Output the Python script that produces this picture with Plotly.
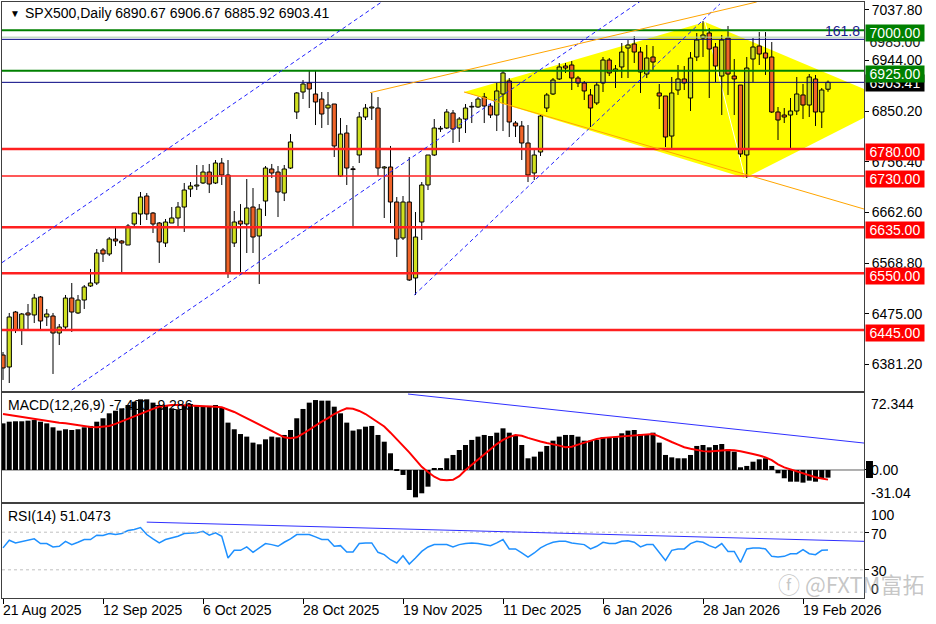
import pandas as pd
import plotly.graph_objects as go
from plotly.subplots import make_subplots

FONT = "Liberation Sans, Arial, sans-serif"

# ---------------- data ----------------
all_days = pd.bdate_range("2025-08-21", "2026-02-25")
market_closed = pd.to_datetime(["2025-12-25", "2026-01-01"])
dates = [d for d in all_days if d not in market_closed]

opens = [
    6398.7, 6376.5, 6478.3, 6445.0, 6476.5, 6472.8, 6506.1, 6469.1, 6470.9, 6439.4,
    6450.5, 6504.2, 6476.5, 6500.5, 6526.5, 6532.0, 6593.1, 6585.7, 6613.4, 6609.7,
    6602.3, 6641.2, 6659.7, 6693.0, 6661.5, 6643.0, 6606.0, 6643.0, 6652.3, 6672.6,
    6705.9, 6711.5, 6717.1, 6737.4, 6717.1, 6754.1, 6731.9, 6606.0, 6646.7, 6641.2,
    6672.6, 6619.0, 6683.7, 6743.0, 6737.4, 6698.5, 6744.8, 6848.5, 6885.5, 6902.2,
    6881.8, 6872.5, 6855.9, 6863.3, 6730.0, 6809.6, 6743.0, 6768.9, 6839.2, 6855.9,
    6855.9, 6744.8, 6746.7, 6681.9, 6615.3, 6681.9, 6541.3, 6644.9, 6713.4, 6768.9,
    6817.0, 6818.9, 6846.6, 6818.9, 6835.5, 6857.7, 6857.7, 6876.2, 6859.6, 6842.9,
    6881.8, 6905.9, 6828.1, 6822.6, 6791.1, 6735.6, 6774.4, 6855.9, 6881.8, 6909.6,
    6933.6, 6935.5, 6911.4, 6902.2, 6880.0, 6865.2, 6902.2, 6944.7, 6924.4, 6931.8,
    6966.9, 6974.3, 6959.5, 6918.8, 6950.3, 6883.7, 6878.1, 6804.0, 6889.2, 6909.6,
    6874.4, 6950.3, 6985.4, 6994.7, 6968.8, 6915.1, 6985.4, 6915.1, 6898.4, 6768.9,
    6946.6, 6970.6, 6957.7, 6950.3, 6848.5, 6842.9, 6842.9, 6850.3, 6880.0, 6861.4,
    6909.6, 6848.5, 6890.67]
highs = [
    6404.3, 6476.5, 6480.2, 6476.5, 6493.1, 6511.7, 6507.9, 6483.9, 6476.5, 6456.1,
    6509.8, 6532.0, 6509.8, 6528.3, 6558.0, 6594.9, 6596.8, 6617.1, 6635.6, 6611.6,
    6641.2, 6661.5, 6700.4, 6698.5, 6663.4, 6644.9, 6650.4, 6672.6, 6681.9, 6717.1,
    6718.9, 6750.4, 6750.4, 6752.3, 6759.6, 6763.3, 6759.6, 6665.2, 6678.1, 6724.5,
    6707.8, 6678.1, 6748.5, 6752.3, 6748.5, 6750.4, 6807.7, 6885.5, 6907.7, 6924.4,
    6924.4, 6885.5, 6885.5, 6863.3, 6837.4, 6824.4, 6748.5, 6848.5, 6863.3, 6883.7,
    6876.2, 6748.5, 6785.6, 6691.1, 6693.0, 6765.2, 6663.4, 6718.9, 6768.9, 6835.5,
    6822.6, 6854.0, 6852.2, 6839.2, 6863.3, 6867.0, 6876.2, 6883.7, 6865.2, 6902.2,
    6924.4, 6911.4, 6831.8, 6831.8, 6824.4, 6778.1, 6842.9, 6883.7, 6911.4, 6939.2,
    6939.2, 6942.8, 6915.1, 6905.9, 6891.0, 6904.0, 6950.3, 6948.4, 6935.5, 6976.2,
    6981.7, 6989.1, 6968.8, 6972.5, 6970.6, 6900.3, 6878.1, 6913.3, 6935.5, 6933.6,
    6959.5, 6994.7, 7016.9, 7003.9, 6976.2, 6991.0, 7007.7, 6946.6, 6898.4, 6950.3,
    6985.4, 6996.5, 6996.5, 6978.0, 6857.7, 6855.9, 6874.4, 6913.3, 6900.3, 6918.8,
    6917.0, 6892.9, 6906.67]
lows = [
    6352.5, 6346.9, 6439.4, 6417.2, 6446.8, 6457.9, 6443.1, 6452.4, 6363.6, 6417.2,
    6446.8, 6441.3, 6474.6, 6483.9, 6524.6, 6528.3, 6570.9, 6582.0, 6600.5, 6550.6,
    6602.3, 6635.6, 6639.3, 6648.6, 6624.5, 6569.1, 6598.6, 6643.0, 6637.5, 6626.4,
    6691.1, 6704.1, 6715.2, 6698.5, 6715.2, 6713.4, 6541.3, 6598.6, 6550.6, 6587.5,
    6587.5, 6530.2, 6656.0, 6726.3, 6654.1, 6683.7, 6743.0, 6835.5, 6872.5, 6855.9,
    6824.4, 6818.9, 6824.4, 6765.2, 6728.2, 6713.4, 6635.6, 6754.1, 6833.7, 6833.7,
    6730.0, 6652.3, 6643.0, 6580.2, 6611.6, 6535.7, 6509.8, 6611.6, 6704.1, 6767.0,
    6811.5, 6817.0, 6791.1, 6793.0, 6809.6, 6828.1, 6855.9, 6828.1, 6837.4, 6813.3,
    6813.3, 6802.2, 6802.2, 6759.6, 6718.9, 6722.6, 6767.0, 6848.5, 6880.0, 6907.7,
    6920.7, 6889.2, 6894.7, 6870.7, 6820.7, 6861.4, 6885.5, 6915.1, 6892.9, 6911.4,
    6911.4, 6939.2, 6883.7, 6911.4, 6926.2, 6854.0, 6783.7, 6781.9, 6880.0, 6889.2,
    6850.3, 6942.8, 6950.3, 6874.4, 6904.0, 6842.9, 6880.0, 6842.9, 6765.2, 6726.3,
    6904.0, 6935.5, 6917.0, 6846.6, 6796.7, 6828.1, 6778.1, 6842.9, 6835.5, 6839.2,
    6822.6, 6818.9, 6885.92]
closes = [
    6374.7, 6469.1, 6445.0, 6474.6, 6472.8, 6504.2, 6461.6, 6474.6, 6439.4, 6450.5,
    6504.2, 6478.3, 6500.5, 6524.6, 6532.0, 6587.5, 6585.7, 6613.4, 6609.7, 6606.0,
    6637.5, 6661.5, 6691.1, 6659.7, 6641.2, 6607.9, 6644.9, 6652.3, 6672.6, 6704.1,
    6711.5, 6713.4, 6737.4, 6715.2, 6754.1, 6731.9, 6550.6, 6644.9, 6641.2, 6670.8,
    6617.1, 6668.9, 6744.8, 6735.6, 6700.4, 6743.0, 6793.0, 6883.7, 6900.3, 6891.0,
    6867.0, 6844.8, 6861.4, 6785.6, 6807.7, 6744.8, 6742.0, 6839.2, 6855.9, 6857.7,
    6744.8, 6746.7, 6681.9, 6613.4, 6681.9, 6537.6, 6617.1, 6713.4, 6768.9, 6818.9,
    6818.0, 6848.5, 6817.0, 6835.5, 6855.9, 6858.6, 6872.5, 6859.6, 6842.9, 6887.4,
    6920.7, 6830.0, 6822.6, 6791.1, 6731.9, 6768.9, 6841.1, 6880.0, 6907.7, 6931.8,
    6929.9, 6911.4, 6902.2, 6887.4, 6855.9, 6898.4, 6944.7, 6920.7, 6928.1, 6959.5,
    6972.5, 6959.5, 6922.5, 6948.4, 6941.0, 6878.1, 6802.2, 6883.7, 6909.6, 6902.2,
    6948.4, 6981.7, 6991.0, 6965.1, 6933.6, 6981.7, 6918.8, 6909.6, 6770.8, 6929.9,
    6968.8, 6955.8, 6948.4, 6848.5, 6833.7, 6839.2, 6850.3, 6881.8, 6861.4, 6913.3,
    6848.5, 6889.2, 6903.41]

macd_main = [
    45, 46.6, 47, 47, 47.6, 48.2, 46.6, 45, 41.2, 38,
    39.3, 38.6, 39.3, 41.2, 42.5, 46.6, 49.9, 54.7, 57.2, 59.5,
    62.7, 65.9, 68.2, 68.2, 65, 62.7, 61.8, 59.5, 58.6, 61.8,
    63.7, 62.7, 61.8, 61.8, 62.7, 60.5, 45.7, 39.3, 34.7, 32.2,
    26.4, 24.8, 29.6, 32.2, 31.5, 33.8, 38.6, 49.9, 58.9, 65,
    67.5, 66.9, 66.9, 61.1, 54.7, 45.7, 38, 39.3, 41.8, 42.5,
    33.8, 27.3, 16.1, -1, -4.8, -19.3, -26.4, -22.5, -16.1, 1.3,
    1.6, 11.3, 14.5, 19.3, 24.1, 29, 32.2, 33.8, 32.8, 36,
    40.2, 36, 32.8, 24.1, 11.3, 12.9, 17.7, 23.2, 28.3, 32.2,
    33.8, 33.8, 32.2, 28.3, 28.3, 29, 31.5, 31.5, 31.5, 35.4,
    38, 38.6, 34.7, 34.7, 36, 26.4, 14.5, 12.2, 11.3, 11.3,
    14.5, 23.2, 24.1, 21.9, 24.1, 25.1, 20, 17.7, 2.6, 3.9,
    8, 10.3, 11.3, 3.9, -3.2, -8, -11.3, -11.3, -12.2, -10.3,
    -11.3, -8, -7.4]
macd_signal = [
    54, 53, 52, 51, 50, 49, 48, 47.5, 46.5, 45.5,
    45, 44, 43, 42, 41.5, 41.2, 41.5, 42.5, 44.5, 47,
    49.5, 52, 54.5, 57, 59, 61, 62, 62.7, 62.7, 62.5,
    62.2, 62, 61.8, 61.5, 61, 60.5, 58.5, 56, 53, 50,
    47, 44, 41, 38, 34.5, 31.5, 30.6, 31.5, 35, 39,
    43, 46.6, 50, 54, 57, 59.5, 59, 57, 54, 50,
    46.6, 42, 36, 30, 24, 17, 10, 3, -2, -6.5,
    -9.5, -10, -9.5, -6, 0, 5, 10, 15.5, 20, 25,
    29, 32, 33.8, 33, 31, 29, 27.5, 26, 25, 23.5,
    22, 22.5, 24.5, 26.5, 28.5, 30, 31, 31.5, 31.5, 32,
    32.8, 33.5, 34, 34.5, 34.7, 32.5, 29.5, 27, 24.5, 22,
    20.5, 19, 18.2, 17.8, 18, 18.7, 19.2, 19, 18, 17,
    15.5, 14, 12.2, 9.5, 5.5, 2.5, 0.5, -1, -3, -5,
    -7, -8.2, -9.286]
rsi14 = [
    53.3, 61.4, 58.6, 60.3, 61.4, 62.9, 57.9, 57.9, 54.3, 55,
    60.3, 56.8, 59.3, 62.2, 62.2, 66.8, 66.4, 68.6, 67.5, 68.6,
    71.8, 72.9, 75, 67.5, 62.9, 58.6, 62.2, 64, 65.7, 68.6,
    69.3, 69.3, 71, 66.8, 69.3, 65.7, 42.5, 50.7, 50.7, 54.3,
    48.6, 53.3, 57.9, 56.8, 55, 59.3, 62.9, 67.5, 67.5, 67.5,
    65, 62.2, 62.2, 55, 55.7, 49, 49, 57.9, 58.6, 58.6,
    48.6, 46.1, 40.7, 37.2, 45, 36.1, 42.5, 49.6, 54.3, 56.8,
    56.8, 56.8, 54.3, 56.8, 57.9, 58.6, 57.9, 56.8, 55.7, 58.6,
    62.2, 52.2, 52.2, 47.9, 43.6, 47.9, 53.3, 56.8, 59.3, 60.3,
    60.3, 58.6, 57.9, 56.8, 52.2, 55, 59.3, 57.9, 57.9, 60.3,
    61, 59.3, 54.3, 56.8, 56.8, 47.9, 40, 50.7, 52.2, 52.2,
    57.9, 60.3, 59.3, 55.7, 53.3, 57.9, 49.6, 49.6, 37.8, 52.2,
    53.3, 53.3, 52.2, 44.3, 43.6, 44.3, 47.1, 47.1, 51.4, 47.1,
    46.1, 50.7, 51.0473]

price_ticks = [7037.80, 6944.00, 6850.20, 6756.40, 6662.60, 6568.80, 6475.00, 6381.20]
support_levels = [6780, 6730, 6635, 6550, 6445]
resistance_levels = [7000, 6925]
fib_level = 6987.0
marked_level = 6983.0
last_price = closes[-1]
date_tick_idx = list(range(0, len(dates), 16))
date_tick_labels = [f"{dates[i].day} {dates[i].strftime('%b %Y')}" for i in date_tick_idx]

# analyst drawings (bar position, price)
channel_a = [(-0.16, 6569.7), (60.8, 7053.9)]
channel_b = [(11.0, 6334.0), (101.9, 7053.0)]
channel_c = [(65.8, 6509.8), (114.7, 7048.4)]
orange_upper = [(58.72, 6884.2), (120.59, 7052.1)]
orange_lower = [(73.76, 6885.5), (137.76, 6668.9)]
pattern = [(73.76, 6885.5), (112.32, 7015.0), (137.76, 6891.2), (137.76, 6837.9), (118.72, 6726.3)]
pattern_split = [(112.32, 7015.0), (118.72, 6726.3)]
macd_trend = [(64.8, 73.3), (137.76, 26.0)]
rsi_trend = [(23.0, 80.7), (137.76, 60.3)]

# ---------------- figure ----------------
n = len(dates)
idx = list(range(n))
BULL = "#D0E020"
BEAR = "#F06428"

X_RANGE = [-0.16, 137.76]
MAIN_RANGE = [6332.1, 7052.1]
MACD_RANGE = [-30.9, 74.3]
RSI_RANGE = [0, 100]

fig = make_subplots(rows=3, cols=1, shared_xaxes=True, vertical_spacing=0.0)

# candles: wicks (above / below body) then bodies
wx, wy = [], []
for i in idx:
    top = max(opens[i], closes[i])
    bot = min(opens[i], closes[i])
    wx += [i, i, None, i, i, None]
    wy += [highs[i], top, None, bot, lows[i], None]
fig.add_trace(go.Scatter(x=wx, y=wy, mode="lines", line=dict(color="black", width=1),
                         hoverinfo="skip", showlegend=False), row=1, col=1)
bases = [min(o, c) for o, c in zip(opens, closes)]
heights = [max(abs(c - o), 1.3) for o, c in zip(opens, closes)]
colors = [BULL if c >= o else BEAR for o, c in zip(opens, closes)]
fig.add_trace(go.Bar(x=idx, y=heights, base=bases, width=0.68,
                     marker=dict(color=colors, line=dict(color="black", width=1)),
                     hoverinfo="skip", showlegend=False), row=1, col=1)

# MACD
fig.add_trace(go.Bar(x=idx, y=macd_main, width=0.8, marker=dict(color="black", line=dict(width=0)),
                     hoverinfo="skip", showlegend=False), row=2, col=1)
fig.add_trace(go.Scatter(x=idx, y=macd_signal, mode="lines", line=dict(color="#FF0000", width=2),
                         hoverinfo="skip", showlegend=False), row=2, col=1)

# RSI
fig.add_trace(go.Scatter(x=idx, y=rsi14, mode="lines", line=dict(color="#1E90FF", width=1.5),
                         hoverinfo="skip", showlegend=False), row=3, col=1)

shapes = []

# yellow pattern (drawn beneath the candles)
path = "M " + " L ".join(f"{x},{y}" for x, y in pattern) + " Z"
shapes.append(dict(type="path", xref="x", yref="y", path=path, fillcolor="#FFFF00",
                   line=dict(width=0), layer="below"))
shapes.append(dict(type="line", xref="x", yref="y", x0=pattern_split[0][0], y0=pattern_split[0][1],
                   x1=pattern_split[1][0], y1=pattern_split[1][1], layer="below",
                   line=dict(color="white", width=1)))


def seg(pts, xref, yref, color, width=1, dash="solid"):
    return dict(type="line", xref=xref, yref=yref, x0=pts[0][0], y0=pts[0][1],
                x1=pts[1][0], y1=pts[1][1], line=dict(color=color, width=width, dash=dash))


def hline(y, color, width, xref="x domain", yref="y", dash="solid", layer="above"):
    return dict(type="line", xref=xref, yref=yref, x0=0, x1=1, y0=y, y1=y, layer=layer,
                line=dict(color=color, width=width, dash=dash))


for lvl in support_levels:
    shapes.append(hline(lvl, "#FF2020", 1.5 if lvl == 6730 else 2.5))
shapes.append(hline(fib_level, "#A8CCA8", 1))
shapes.append(hline(marked_level, "#000080", 1))
for lvl in resistance_levels:
    shapes.append(hline(lvl, "#008000", 2))
shapes.append(hline(last_price, "#000080", 1))

for ch in (channel_a, channel_b, channel_c):
    shapes.append(seg(ch, "x", "y", "#2020FF", 1, "4px,3px"))
shapes.append(seg(orange_upper, "x", "y", "#FFA500", 1))
shapes.append(seg(orange_lower, "x", "y", "#FFA500", 1))

shapes.append(hline(0, "#606060", 1, xref="x2 domain", yref="y2", layer="below"))
shapes.append(seg(macd_trend, "x2", "y2", "#3030FF", 1))
shapes.append(hline(70, "#C0C0C0", 1, xref="x3 domain", yref="y3", dash="dot"))
shapes.append(hline(30, "#C0C0C0", 1, xref="x3 domain", yref="y3", dash="dot"))
shapes.append(seg(rsi_trend, "x3", "y3", "#3030FF", 1))

# black marker box beside 0.00 on MACD scale
shapes.append(dict(type="rect", xref="paper", yref="paper", x0=1.0023, x1=1.0104,
                   y0=0.2013, y1=0.2299, fillcolor="black", line=dict(width=0)))

ann = []


def level_box(y, text, bg, fg="white", yshift=-3):
    return dict(xref="paper", yref="y", x=1, y=y, xanchor="left", yanchor="middle",
                xshift=1, yshift=yshift, text=text, showarrow=False, bgcolor=bg,
                font=dict(color=fg, size=14, family=FONT), width=58, borderpad=0,
                align="center")


ann.append(level_box(marked_level, f"{marked_level + 2:.2f}", "rgba(0,0,0,0)", fg="#202020", yshift=-3))
ann.append(level_box(last_price, f"{last_price:.2f}", "black", yshift=-1))
for lvl in resistance_levels:
    ann.append(level_box(lvl, f"{lvl:.2f}", "#008000", yshift=-3))
for lvl in support_levels:
    ann.append(level_box(lvl, f"{lvl:.2f}", "#FF0000", yshift=-3))


def ptext(x, y, text, size=14, color="black", xanchor="left", family=FONT):
    return dict(xref="paper", yref="paper", x=x, y=y, xanchor=xanchor, yanchor="middle",
                text=text, showarrow=False, font=dict(size=size, color=color, family=family))


ann.append(ptext(0.0070, 0.9815, "▼", size=10))
ann.append(ptext(0.0244, 0.9815, f"SPX500,Daily {opens[-1]:.2f} {highs[-1]:.2f} {lows[-1]:.2f} {closes[-1]:.2f}"))
ann.append(ptext(0.9977, 0.9513, "161.8", color="#1A1A8C", xanchor="right"))

ann.append(ptext(0.0046, 0.3238, f"MACD(12,26,9) {macd_main[-1]:.3f} {macd_signal[-1]:.3f}"))
ann.append(ptext(0.0046, 0.1376, f"RSI(14) {rsi14[-1]:.4f}"))

for txt, yp in [("72.344", 0.3255), ("0.00", 0.2148), ("-31.04", 0.1762),
                ("100", 0.1393), ("70", 0.1074), ("30", 0.0453), ("0", 0.0151)]:
    ann.append(dict(xref="paper", yref="paper", x=1, y=yp, xanchor="left", yanchor="middle",
                    xshift=5, text=txt, showarrow=False, font=dict(size=14, color="black", family=FONT)))

for i, lab in zip(date_tick_idx, date_tick_labels):
    ann.append(dict(xref="x3", yref="paper", x=i, y=-0.0201, xanchor="left", yanchor="middle",
                    xshift=-2, text=lab, showarrow=False, font=dict(size=14, color="black", family=FONT)))

ann.append(ptext(1.072, 0.0252, "ⓕ @FXTM富拓", size=22, color="rgba(150,150,150,0.55)",
                 xanchor="right", family="Noto Sans CJK SC, DejaVu Sans, sans-serif"))

axis_common = dict(showgrid=False, zeroline=False, showline=True, mirror=True,
                   linecolor="#404040", linewidth=1)

fig.update_layout(
    width=936, height=624,
    margin=dict(l=2, r=72, t=2, b=26),
    paper_bgcolor="white", plot_bgcolor="white",
    showlegend=False, hovermode=False,
    shapes=shapes, annotations=ann,
    font=dict(family=FONT, size=14, color="black"),
    xaxis=dict(range=X_RANGE, showticklabels=False, ticks="", **axis_common),
    xaxis2=dict(range=X_RANGE, showticklabels=False, ticks="", **axis_common),
    xaxis3=dict(range=X_RANGE, showticklabels=False, ticks="outside", ticklen=5,
                tickcolor="black", tickvals=date_tick_idx, **axis_common),
    yaxis=dict(domain=[0.34732, 1.0], range=MAIN_RANGE, side="right",
               tickvals=price_ticks, ticktext=[f"{v:.2f}" for v in price_ticks],
               ticks="outside", ticklen=4, tickcolor="black",
               tickfont=dict(size=14, family=FONT), **axis_common),
    yaxis2=dict(domain=[0.16107, 0.34396], range=MACD_RANGE, side="right",
                showticklabels=False, ticks="outside", ticklen=4, tickcolor="black",
                tickvals=[0], **axis_common),
    yaxis3=dict(domain=[0.0, 0.15772], range=RSI_RANGE, side="right",
                showticklabels=False, ticks="outside", ticklen=4, tickcolor="black",
                tickvals=[70, 30], **axis_common),
)

fig.write_html("out.html", config={"displayModeBar": False},
               post_script="document.body.style.margin='0px';")
